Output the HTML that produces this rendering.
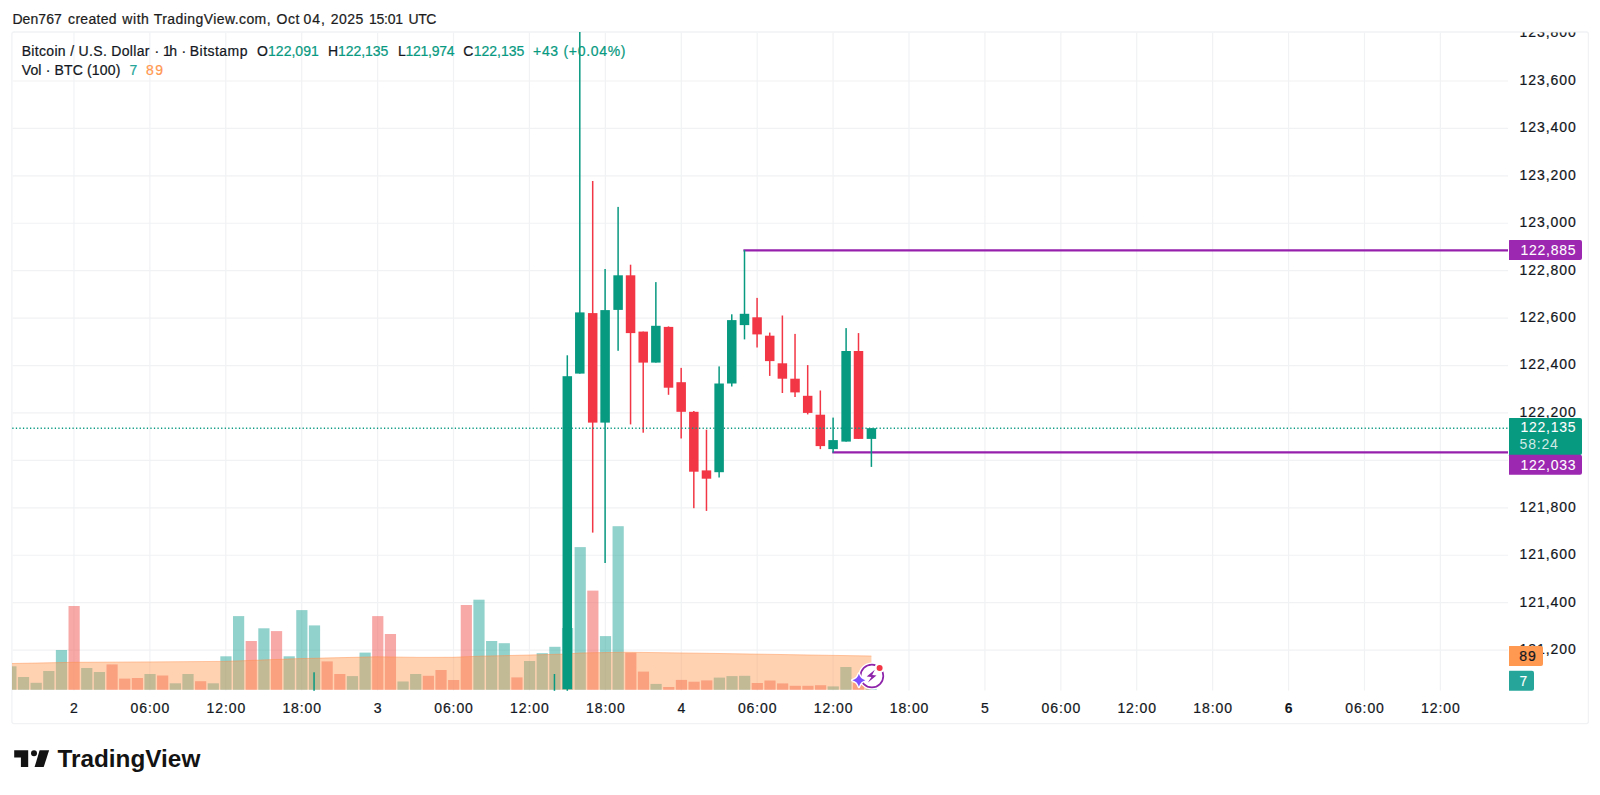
<!DOCTYPE html>
<html lang="en"><head><meta charset="utf-8"><title>BTCUSD chart</title>
<style>html,body{margin:0;padding:0;background:#fff;overflow:hidden}svg{display:block}text{font-family:"Liberation Sans",Arial,sans-serif}</style></head><body>
<svg width="1600" height="795" viewBox="0 0 1600 795">
<rect width="1600" height="795" fill="#fff"/>
<rect x="11.9" y="32" width="1576.5" height="691.6" rx="2" fill="none" stroke="#f1f2f4" stroke-width="1.3"/>
<path d="M73.97 32.5V690.6 M149.88 32.5V690.6 M225.79 32.5V690.6 M301.71 32.5V690.6 M377.62 32.5V690.6 M453.53 32.5V690.6 M529.44 32.5V690.6 M605.35 32.5V690.6 M681.27 32.5V690.6 M757.18 32.5V690.6 M833.09 32.5V690.6 M909.00 32.5V690.6 M984.91 32.5V690.6 M1060.83 32.5V690.6 M1136.74 32.5V690.6 M1212.65 32.5V690.6 M1288.56 32.5V690.6 M1364.47 32.5V690.6 M1440.39 32.5V690.6 M12.5 81.00H1508.0 M12.5 128.43H1508.0 M12.5 175.85H1508.0 M12.5 223.27H1508.0 M12.5 270.70H1508.0 M12.5 318.12H1508.0 M12.5 365.55H1508.0 M12.5 412.97H1508.0 M12.5 460.40H1508.0 M12.5 507.82H1508.0 M12.5 555.25H1508.0 M12.5 602.67H1508.0 M12.5 650.10H1508.0" stroke="#f1f2f4" stroke-width="1.2" fill="none"/>
<text x="12.4" y="23.7" font-size="14" fill="#1c1c1c" stroke="#1c1c1c" stroke-width="0.22" textLength="49.5" lengthAdjust="spacing">Den767</text>
<text x="68.1" y="23.7" font-size="14" fill="#1c1c1c" stroke="#1c1c1c" stroke-width="0.22" textLength="48.4" lengthAdjust="spacing">created</text>
<text x="122.3" y="23.7" font-size="14" fill="#1c1c1c" stroke="#1c1c1c" stroke-width="0.22" textLength="26.6" lengthAdjust="spacing">with</text>
<text x="153.7" y="23.7" font-size="14" fill="#1c1c1c" stroke="#1c1c1c" stroke-width="0.22" textLength="116.9" lengthAdjust="spacing">TradingView.com,</text>
<text x="276.4" y="23.7" font-size="14" fill="#1c1c1c" stroke="#1c1c1c" stroke-width="0.22" textLength="23.1" lengthAdjust="spacing">Oct</text>
<text x="303.6" y="23.7" font-size="14" fill="#1c1c1c" stroke="#1c1c1c" stroke-width="0.22" textLength="21.3" lengthAdjust="spacing">04,</text>
<text x="330.8" y="23.7" font-size="14" fill="#1c1c1c" stroke="#1c1c1c" stroke-width="0.22" textLength="32.5" lengthAdjust="spacing">2025</text>
<text x="369.0" y="23.7" font-size="14" fill="#1c1c1c" stroke="#1c1c1c" stroke-width="0.22" textLength="34.1" lengthAdjust="spacing">15:01</text>
<text x="408.5" y="23.7" font-size="14" fill="#1c1c1c" stroke="#1c1c1c" stroke-width="0.22" textLength="27.9" lengthAdjust="spacing">UTC</text>
<text x="21.7" y="55.6" font-size="14" fill="#131722" stroke="#131722" stroke-width="0.22" textLength="127.8" lengthAdjust="spacing">Bitcoin / U.S. Dollar</text>
<text x="154.4" y="55.6" font-size="14" fill="#131722" stroke="#131722" stroke-width="0.22">·</text>
<text x="163" y="55.6" font-size="14" fill="#131722" stroke="#131722" stroke-width="0.22" textLength="14" lengthAdjust="spacing">1h</text>
<text x="181.6" y="55.6" font-size="14" fill="#131722" stroke="#131722" stroke-width="0.22">·</text>
<text x="189.8" y="55.6" font-size="14" fill="#131722" stroke="#131722" stroke-width="0.22" textLength="57.7" lengthAdjust="spacing">Bitstamp</text>
<text x="257" y="55.6" font-size="14" fill="#131722" stroke="#131722" stroke-width="0.22">O</text>
<text x="268" y="55.6" font-size="14" fill="#089981" stroke="#089981" stroke-width="0.22" textLength="50.8" lengthAdjust="spacing">122,091</text>
<text x="328" y="55.6" font-size="14" fill="#131722" stroke="#131722" stroke-width="0.22">H</text>
<text x="338" y="55.6" font-size="14" fill="#089981" stroke="#089981" stroke-width="0.22" textLength="50.3" lengthAdjust="spacing">122,135</text>
<text x="398" y="55.6" font-size="14" fill="#131722" stroke="#131722" stroke-width="0.22">L</text>
<text x="405.5" y="55.6" font-size="14" fill="#089981" stroke="#089981" stroke-width="0.22" textLength="49" lengthAdjust="spacing">121,974</text>
<text x="463.3" y="55.6" font-size="14" fill="#131722" stroke="#131722" stroke-width="0.22">C</text>
<text x="473.8" y="55.6" font-size="14" fill="#089981" stroke="#089981" stroke-width="0.22" textLength="50.5" lengthAdjust="spacing">122,135</text>
<text x="533" y="55.6" font-size="14" fill="#089981" stroke="#089981" stroke-width="0.22" textLength="92.5" lengthAdjust="spacing">+43 (+0.04%)</text>
<text x="21.7" y="75.3" font-size="14" fill="#131722" stroke="#131722" stroke-width="0.22" textLength="98.6" lengthAdjust="spacing">Vol · BTC (100)</text>
<text x="129.5" y="75.3" font-size="14" fill="#26a69a" stroke="#26a69a" stroke-width="0.22">7</text>
<text x="146" y="75.3" font-size="14" fill="#ff9850" stroke="#ff9850" stroke-width="0.22" textLength="17" lengthAdjust="spacing">89</text>
<defs><clipPath id="pc"><rect x="12" y="32" width="1496" height="659"/></clipPath><clipPath id="ac"><rect x="1509" y="32.4" width="79" height="691"/></clipPath></defs>
<g clip-path="url(#pc)">
<rect x="5.26" y="666.3" width="11.2" height="23.4" fill="rgba(38,166,154,0.5)"/>
<rect x="17.91" y="677.0" width="11.2" height="12.7" fill="rgba(38,166,154,0.5)"/>
<rect x="30.56" y="682.8" width="11.2" height="6.9" fill="rgba(38,166,154,0.5)"/>
<rect x="43.22" y="671.0" width="11.2" height="18.7" fill="rgba(38,166,154,0.5)"/>
<rect x="55.87" y="650.0" width="11.2" height="39.7" fill="rgba(38,166,154,0.5)"/>
<rect x="68.52" y="606.0" width="11.2" height="83.7" fill="rgba(239,83,80,0.5)"/>
<rect x="81.17" y="668.0" width="11.2" height="21.7" fill="rgba(38,166,154,0.5)"/>
<rect x="93.82" y="672.0" width="11.2" height="17.7" fill="rgba(38,166,154,0.5)"/>
<rect x="106.48" y="664.4" width="11.2" height="25.3" fill="rgba(239,83,80,0.5)"/>
<rect x="119.13" y="678.6" width="11.2" height="11.1" fill="rgba(239,83,80,0.5)"/>
<rect x="131.78" y="678.0" width="11.2" height="11.7" fill="rgba(239,83,80,0.5)"/>
<rect x="144.43" y="674.0" width="11.2" height="15.7" fill="rgba(38,166,154,0.5)"/>
<rect x="157.08" y="675.5" width="11.2" height="14.2" fill="rgba(239,83,80,0.5)"/>
<rect x="169.74" y="683.3" width="11.2" height="6.4" fill="rgba(38,166,154,0.5)"/>
<rect x="182.39" y="674.0" width="11.2" height="15.7" fill="rgba(38,166,154,0.5)"/>
<rect x="195.04" y="681.2" width="11.2" height="8.5" fill="rgba(239,83,80,0.5)"/>
<rect x="207.69" y="683.3" width="11.2" height="6.4" fill="rgba(38,166,154,0.5)"/>
<rect x="220.34" y="656.3" width="11.2" height="33.4" fill="rgba(38,166,154,0.5)"/>
<rect x="233.00" y="616.1" width="11.2" height="73.6" fill="rgba(38,166,154,0.5)"/>
<rect x="245.65" y="641.0" width="11.2" height="48.7" fill="rgba(239,83,80,0.5)"/>
<rect x="258.30" y="628.3" width="11.2" height="61.4" fill="rgba(38,166,154,0.5)"/>
<rect x="270.95" y="631.1" width="11.2" height="58.6" fill="rgba(239,83,80,0.5)"/>
<rect x="283.60" y="656.3" width="11.2" height="33.4" fill="rgba(38,166,154,0.5)"/>
<rect x="296.26" y="610.1" width="11.2" height="79.6" fill="rgba(38,166,154,0.5)"/>
<rect x="308.91" y="625.4" width="11.2" height="64.3" fill="rgba(38,166,154,0.5)"/>
<rect x="321.56" y="661.4" width="11.2" height="28.3" fill="rgba(239,83,80,0.5)"/>
<rect x="334.21" y="674.0" width="11.2" height="15.7" fill="rgba(239,83,80,0.5)"/>
<rect x="346.86" y="676.1" width="11.2" height="13.6" fill="rgba(38,166,154,0.5)"/>
<rect x="359.52" y="652.6" width="11.2" height="37.1" fill="rgba(38,166,154,0.5)"/>
<rect x="372.17" y="616.1" width="11.2" height="73.6" fill="rgba(239,83,80,0.5)"/>
<rect x="384.82" y="634.0" width="11.2" height="55.7" fill="rgba(239,83,80,0.5)"/>
<rect x="397.47" y="681.5" width="11.2" height="8.2" fill="rgba(38,166,154,0.5)"/>
<rect x="410.12" y="674.0" width="11.2" height="15.7" fill="rgba(38,166,154,0.5)"/>
<rect x="422.78" y="675.8" width="11.2" height="13.9" fill="rgba(239,83,80,0.5)"/>
<rect x="435.43" y="670.0" width="11.2" height="19.7" fill="rgba(239,83,80,0.5)"/>
<rect x="448.08" y="680.0" width="11.2" height="9.7" fill="rgba(239,83,80,0.5)"/>
<rect x="460.73" y="605.0" width="11.2" height="84.7" fill="rgba(239,83,80,0.5)"/>
<rect x="473.38" y="599.7" width="11.2" height="90.0" fill="rgba(38,166,154,0.5)"/>
<rect x="486.04" y="641.0" width="11.2" height="48.7" fill="rgba(38,166,154,0.5)"/>
<rect x="498.69" y="643.2" width="11.2" height="46.5" fill="rgba(38,166,154,0.5)"/>
<rect x="511.34" y="677.4" width="11.2" height="12.3" fill="rgba(239,83,80,0.5)"/>
<rect x="523.99" y="661.0" width="11.2" height="28.7" fill="rgba(38,166,154,0.5)"/>
<rect x="536.64" y="653.2" width="11.2" height="36.5" fill="rgba(38,166,154,0.5)"/>
<rect x="549.30" y="646.8" width="11.2" height="42.9" fill="rgba(38,166,154,0.5)"/>
<rect x="561.95" y="628.0" width="11.2" height="61.7" fill="rgba(38,166,154,0.5)"/>
<rect x="574.60" y="547.1" width="11.2" height="142.6" fill="rgba(38,166,154,0.5)"/>
<rect x="587.25" y="590.6" width="11.2" height="99.1" fill="rgba(239,83,80,0.5)"/>
<rect x="599.90" y="636.1" width="11.2" height="53.6" fill="rgba(38,166,154,0.5)"/>
<rect x="612.56" y="526.2" width="11.2" height="163.5" fill="rgba(38,166,154,0.5)"/>
<rect x="625.21" y="652.7" width="11.2" height="37.0" fill="rgba(239,83,80,0.5)"/>
<rect x="637.86" y="671.6" width="11.2" height="18.1" fill="rgba(239,83,80,0.5)"/>
<rect x="650.51" y="683.9" width="11.2" height="5.8" fill="rgba(38,166,154,0.5)"/>
<rect x="663.16" y="687.0" width="11.2" height="2.7" fill="rgba(239,83,80,0.5)"/>
<rect x="675.82" y="679.9" width="11.2" height="9.8" fill="rgba(239,83,80,0.5)"/>
<rect x="688.47" y="681.7" width="11.2" height="8.0" fill="rgba(239,83,80,0.5)"/>
<rect x="701.12" y="680.4" width="11.2" height="9.3" fill="rgba(239,83,80,0.5)"/>
<rect x="713.77" y="677.6" width="11.2" height="12.1" fill="rgba(38,166,154,0.5)"/>
<rect x="726.42" y="676.1" width="11.2" height="13.6" fill="rgba(38,166,154,0.5)"/>
<rect x="739.08" y="675.8" width="11.2" height="13.9" fill="rgba(38,166,154,0.5)"/>
<rect x="751.73" y="683.0" width="11.2" height="6.7" fill="rgba(239,83,80,0.5)"/>
<rect x="764.38" y="680.5" width="11.2" height="9.2" fill="rgba(239,83,80,0.5)"/>
<rect x="777.03" y="683.4" width="11.2" height="6.3" fill="rgba(239,83,80,0.5)"/>
<rect x="789.68" y="685.8" width="11.2" height="3.9" fill="rgba(239,83,80,0.5)"/>
<rect x="802.34" y="685.8" width="11.2" height="3.9" fill="rgba(239,83,80,0.5)"/>
<rect x="814.99" y="685.2" width="11.2" height="4.5" fill="rgba(239,83,80,0.5)"/>
<rect x="827.64" y="686.4" width="11.2" height="3.3" fill="rgba(38,166,154,0.5)"/>
<rect x="840.29" y="667.0" width="11.2" height="22.7" fill="rgba(38,166,154,0.5)"/>
<rect x="852.94" y="683.0" width="11.2" height="6.7" fill="rgba(239,83,80,0.5)"/>
<rect x="865.60" y="688.9" width="11.2" height="0.8" fill="rgba(38,166,154,0.5)"/>
<polygon points="12,663.5 74,662.3 150,661.9 225,661.4 300,658.6 377,656.8 420,657.4 453,657.3 480,656.2 530,655 567,654 580,653 625,652.2 700,653.2 750,654 871.4,656 871.4,689.7 12,689.7" fill="rgba(255,152,80,0.44)"/>
<polyline points="12,663.5 74,662.3 150,661.9 225,661.4 300,658.6 377,656.8 420,657.4 453,657.3 480,656.2 530,655 567,654 580,653 625,652.2 700,653.2 750,654 871.4,656" fill="none" stroke="rgba(255,140,70,0.45)" stroke-width="1"/>
<line x1="743.4" y1="250.4" x2="1508.0" y2="250.4" stroke="#9620AC" stroke-width="2.2"/>
<line x1="832.3" y1="452.4" x2="1508.0" y2="452.4" stroke="#9620AC" stroke-width="2.2"/>
<rect x="313.31" y="672.3" width="1.5" height="18.5" fill="#089981"/>
<rect x="553.70" y="674.0" width="1.5" height="16.8" fill="#089981"/>
<rect x="566.55" y="355.3" width="1.5" height="335.5" fill="#089981"/>
<rect x="562.55" y="376.2" width="9.5" height="313.0" fill="#089981"/>
<rect x="579.05" y="32.0" width="1.5" height="341.6" fill="#089981"/>
<rect x="575.05" y="312.4" width="9.5" height="61.2" fill="#089981"/>
<rect x="591.95" y="181.0" width="1.5" height="351.6" fill="#F23645"/>
<rect x="587.95" y="313.1" width="9.5" height="109.5" fill="#F23645"/>
<rect x="604.35" y="269.0" width="1.5" height="294.0" fill="#089981"/>
<rect x="600.35" y="310.1" width="9.5" height="112.5" fill="#089981"/>
<rect x="617.35" y="206.9" width="1.5" height="143.9" fill="#089981"/>
<rect x="613.35" y="275.3" width="9.5" height="34.6" fill="#089981"/>
<rect x="629.81" y="264.7" width="1.5" height="159.7" fill="#F23645"/>
<rect x="625.81" y="275.3" width="9.5" height="57.8" fill="#F23645"/>
<rect x="642.46" y="331.6" width="1.5" height="101.1" fill="#F23645"/>
<rect x="638.46" y="331.6" width="9.5" height="31.0" fill="#F23645"/>
<rect x="655.11" y="282.1" width="1.5" height="80.5" fill="#089981"/>
<rect x="651.11" y="325.8" width="9.5" height="36.8" fill="#089981"/>
<rect x="667.76" y="326.4" width="1.5" height="68.4" fill="#F23645"/>
<rect x="663.76" y="326.9" width="9.5" height="60.8" fill="#F23645"/>
<rect x="680.42" y="367.9" width="1.5" height="70.6" fill="#F23645"/>
<rect x="676.42" y="382.2" width="9.5" height="29.6" fill="#F23645"/>
<rect x="693.07" y="411.0" width="1.5" height="97.2" fill="#F23645"/>
<rect x="689.07" y="411.8" width="9.5" height="59.9" fill="#F23645"/>
<rect x="705.72" y="429.7" width="1.5" height="81.2" fill="#F23645"/>
<rect x="701.72" y="470.4" width="9.5" height="8.3" fill="#F23645"/>
<rect x="718.37" y="366.4" width="1.5" height="111.1" fill="#089981"/>
<rect x="714.37" y="383.5" width="9.5" height="88.7" fill="#089981"/>
<rect x="731.02" y="314.3" width="1.5" height="72.2" fill="#089981"/>
<rect x="727.02" y="320.1" width="9.5" height="63.4" fill="#089981"/>
<rect x="743.75" y="250.1" width="1.5" height="89.3" fill="#089981"/>
<rect x="739.75" y="313.8" width="9.5" height="11.3" fill="#089981"/>
<rect x="756.33" y="297.9" width="1.5" height="49.6" fill="#F23645"/>
<rect x="752.33" y="317.3" width="9.5" height="17.1" fill="#F23645"/>
<rect x="768.98" y="332.6" width="1.5" height="43.3" fill="#F23645"/>
<rect x="764.98" y="335.7" width="9.5" height="25.4" fill="#F23645"/>
<rect x="781.63" y="315.5" width="1.5" height="77.5" fill="#F23645"/>
<rect x="777.63" y="363.3" width="9.5" height="15.4" fill="#F23645"/>
<rect x="794.28" y="333.9" width="1.5" height="63.1" fill="#F23645"/>
<rect x="790.28" y="378.7" width="9.5" height="13.7" fill="#F23645"/>
<rect x="806.94" y="365.1" width="1.5" height="49.3" fill="#F23645"/>
<rect x="802.94" y="395.8" width="9.5" height="17.1" fill="#F23645"/>
<rect x="819.59" y="390.5" width="1.5" height="58.6" fill="#F23645"/>
<rect x="815.59" y="414.7" width="9.5" height="31.4" fill="#F23645"/>
<rect x="832.35" y="417.6" width="1.5" height="35.0" fill="#089981"/>
<rect x="828.35" y="440.1" width="9.5" height="9.0" fill="#089981"/>
<rect x="845.35" y="328.1" width="1.5" height="113.5" fill="#089981"/>
<rect x="841.35" y="351.0" width="9.5" height="90.6" fill="#089981"/>
<rect x="857.75" y="333.1" width="1.5" height="105.8" fill="#F23645"/>
<rect x="853.75" y="351.0" width="9.5" height="87.9" fill="#F23645"/>
<rect x="870.65" y="428.2" width="1.5" height="38.7" fill="#089981"/>
<rect x="866.65" y="428.2" width="9.5" height="10.7" fill="#089981"/>
</g>
<line x1="12.3" y1="428.25" x2="1508.0" y2="428.25" stroke="#089981" stroke-width="1.3" stroke-dasharray="1.25 2.29"/>
<g clip-path="url(#ac)">
<text x="1519.6" y="37.4" font-size="14" fill="#131722" stroke="#131722" stroke-width="0.22" textLength="56.1" lengthAdjust="spacing">123,800</text>
<text x="1519.6" y="84.8" font-size="14" fill="#131722" stroke="#131722" stroke-width="0.22" textLength="56.1" lengthAdjust="spacing">123,600</text>
<text x="1519.6" y="132.2" font-size="14" fill="#131722" stroke="#131722" stroke-width="0.22" textLength="56.1" lengthAdjust="spacing">123,400</text>
<text x="1519.6" y="179.7" font-size="14" fill="#131722" stroke="#131722" stroke-width="0.22" textLength="56.1" lengthAdjust="spacing">123,200</text>
<text x="1519.6" y="227.1" font-size="14" fill="#131722" stroke="#131722" stroke-width="0.22" textLength="56.1" lengthAdjust="spacing">123,000</text>
<text x="1519.6" y="274.5" font-size="14" fill="#131722" stroke="#131722" stroke-width="0.22" textLength="56.1" lengthAdjust="spacing">122,800</text>
<text x="1519.6" y="321.9" font-size="14" fill="#131722" stroke="#131722" stroke-width="0.22" textLength="56.1" lengthAdjust="spacing">122,600</text>
<text x="1519.6" y="369.3" font-size="14" fill="#131722" stroke="#131722" stroke-width="0.22" textLength="56.1" lengthAdjust="spacing">122,400</text>
<text x="1519.6" y="416.8" font-size="14" fill="#131722" stroke="#131722" stroke-width="0.22" textLength="56.1" lengthAdjust="spacing">122,200</text>
<text x="1519.6" y="464.2" font-size="14" fill="#131722" stroke="#131722" stroke-width="0.22" textLength="56.1" lengthAdjust="spacing">122,000</text>
<text x="1519.6" y="511.6" font-size="14" fill="#131722" stroke="#131722" stroke-width="0.22" textLength="56.1" lengthAdjust="spacing">121,800</text>
<text x="1519.6" y="559.0" font-size="14" fill="#131722" stroke="#131722" stroke-width="0.22" textLength="56.1" lengthAdjust="spacing">121,600</text>
<text x="1519.6" y="606.5" font-size="14" fill="#131722" stroke="#131722" stroke-width="0.22" textLength="56.1" lengthAdjust="spacing">121,400</text>
<text x="1519.6" y="653.9" font-size="14" fill="#131722" stroke="#131722" stroke-width="0.22" textLength="56.1" lengthAdjust="spacing">121,200</text>
</g>
<path d="M1509.5 240.1H1580a2 2 0 0 1 2 2V258.0a2 2 0 0 1 -2 2H1509.5a.5 .5 0 0 1 -.5 -.5V240.6a.5 .5 0 0 1 .5 -.5z" fill="#9C27B0"/>
<text x="1520.4" y="255.0" font-size="14" fill="#fff" stroke="#fff" stroke-width="0.08" textLength="55.2" lengthAdjust="spacing">122,885</text>
<path d="M1509.5 418.0H1580a2 2 0 0 1 2 2V452.9a2 2 0 0 1 -2 2H1509.5a.5 .5 0 0 1 -.5 -.5V418.5a.5 .5 0 0 1 .5 -.5z" fill="#089981"/>
<text x="1520.4" y="432.2" font-size="14" fill="#fff" stroke="#fff" stroke-width="0.08" textLength="55.2" lengthAdjust="spacing">122,135</text>
<text x="1519.6" y="448.8" font-size="14" fill="rgba(255,255,255,0.82)" textLength="38.2" lengthAdjust="spacing">58:24</text>
<path d="M1509.5 454.8H1580a2 2 0 0 1 2 2V472.7a2 2 0 0 1 -2 2H1509.5a.5 .5 0 0 1 -.5 -.5V455.3a.5 .5 0 0 1 .5 -.5z" fill="#9C27B0"/>
<text x="1520.4" y="469.6" font-size="14" fill="#fff" stroke="#fff" stroke-width="0.08" textLength="55.2" lengthAdjust="spacing">122,033</text>
<path d="M1509.5 645.9H1541a2 2 0 0 1 2 2V663.9a2 2 0 0 1 -2 2H1509.5a.5 .5 0 0 1 -.5 -.5V646.4a.5 .5 0 0 1 .5 -.5z" fill="#FF9850"/>
<text x="1519.2" y="661.0" font-size="14" fill="#131722" stroke="#131722" stroke-width="0.22" textLength="16.6" lengthAdjust="spacing">89</text>
<path d="M1509.5 670.8H1532a2 2 0 0 1 2 2V688.8a2 2 0 0 1 -2 2H1509.5a.5 .5 0 0 1 -.5 -.5V671.3a.5 .5 0 0 1 .5 -.5z" fill="#26a69a"/>
<text x="1519.6" y="685.7" font-size="14" fill="#fff" stroke="#fff" stroke-width="0.08">7</text>
<text x="74.0" y="713.4" font-size="14" fill="#131722" stroke="#131722" stroke-width="0.22" text-anchor="middle">2</text>
<text x="130.6" y="713.4" font-size="14" fill="#131722" stroke="#131722" stroke-width="0.22" textLength="38.7" lengthAdjust="spacing">06:00</text>
<text x="206.5" y="713.4" font-size="14" fill="#131722" stroke="#131722" stroke-width="0.22" textLength="38.7" lengthAdjust="spacing">12:00</text>
<text x="282.4" y="713.4" font-size="14" fill="#131722" stroke="#131722" stroke-width="0.22" textLength="38.7" lengthAdjust="spacing">18:00</text>
<text x="377.6" y="713.4" font-size="14" fill="#131722" stroke="#131722" stroke-width="0.22" text-anchor="middle">3</text>
<text x="434.2" y="713.4" font-size="14" fill="#131722" stroke="#131722" stroke-width="0.22" textLength="38.7" lengthAdjust="spacing">06:00</text>
<text x="510.1" y="713.4" font-size="14" fill="#131722" stroke="#131722" stroke-width="0.22" textLength="38.7" lengthAdjust="spacing">12:00</text>
<text x="586.1" y="713.4" font-size="14" fill="#131722" stroke="#131722" stroke-width="0.22" textLength="38.7" lengthAdjust="spacing">18:00</text>
<text x="681.3" y="713.4" font-size="14" fill="#131722" stroke="#131722" stroke-width="0.22" text-anchor="middle">4</text>
<text x="737.9" y="713.4" font-size="14" fill="#131722" stroke="#131722" stroke-width="0.22" textLength="38.7" lengthAdjust="spacing">06:00</text>
<text x="813.8" y="713.4" font-size="14" fill="#131722" stroke="#131722" stroke-width="0.22" textLength="38.7" lengthAdjust="spacing">12:00</text>
<text x="889.7" y="713.4" font-size="14" fill="#131722" stroke="#131722" stroke-width="0.22" textLength="38.7" lengthAdjust="spacing">18:00</text>
<text x="984.9" y="713.4" font-size="14" fill="#131722" stroke="#131722" stroke-width="0.22" text-anchor="middle">5</text>
<text x="1041.5" y="713.4" font-size="14" fill="#131722" stroke="#131722" stroke-width="0.22" textLength="38.7" lengthAdjust="spacing">06:00</text>
<text x="1117.4" y="713.4" font-size="14" fill="#131722" stroke="#131722" stroke-width="0.22" textLength="38.7" lengthAdjust="spacing">12:00</text>
<text x="1193.3" y="713.4" font-size="14" fill="#131722" stroke="#131722" stroke-width="0.22" textLength="38.7" lengthAdjust="spacing">18:00</text>
<text x="1288.6" y="713.4" font-size="14" fill="#131722" text-anchor="middle" font-weight="bold">6</text>
<text x="1345.2" y="713.4" font-size="14" fill="#131722" stroke="#131722" stroke-width="0.22" textLength="38.7" lengthAdjust="spacing">06:00</text>
<text x="1421.1" y="713.4" font-size="14" fill="#131722" stroke="#131722" stroke-width="0.22" textLength="38.7" lengthAdjust="spacing">12:00</text>
<circle cx="871.9" cy="676.0" r="13.6" fill="#fff"/>
<circle cx="871.9" cy="676.0" r="11.4" fill="none" stroke="#8E24AA" stroke-width="1.7"/>
<path d="M874.80 669.80L866.70 676.50L871.40 676.90L867.90 682.60L876.50 675.40L872.20 674.90Z" fill="#8E24AA"/>
<circle cx="879.6" cy="667.9" r="5.1" fill="#fff"/><circle cx="879.6" cy="667.9" r="3" fill="#F23645"/>
<path d="M858.9 673.6999999999999Q860.4 678.8 865.5 680.3Q860.4 681.8 858.9 686.9Q857.4 681.8 852.3 680.3Q857.4 678.8 858.9 673.6999999999999Z" fill="#fff" stroke="#fff" stroke-width="2.6" stroke-linejoin="round"/>
<path d="M858.9 673.8Q860.25 678.9499999999999 865.4 680.3Q860.25 681.65 858.9 686.8Q857.55 681.65 852.4 680.3Q857.55 678.9499999999999 858.9 673.8Z" fill="#7C4DFF"/>
<g fill="#131313">
<path d="M14.2 750.3H28.2V767.1H20.9V757.5H14.2Z"/>
<circle cx="34" cy="753.3" r="3"/>
<path d="M39.6 750.3H49.1L43.7 767.1H34.6Z"/>
</g>
<text x="57.5" y="767.1" font-size="23" font-weight="bold" fill="#131313" textLength="142.8" lengthAdjust="spacingAndGlyphs">TradingView</text>
</svg></body></html>
